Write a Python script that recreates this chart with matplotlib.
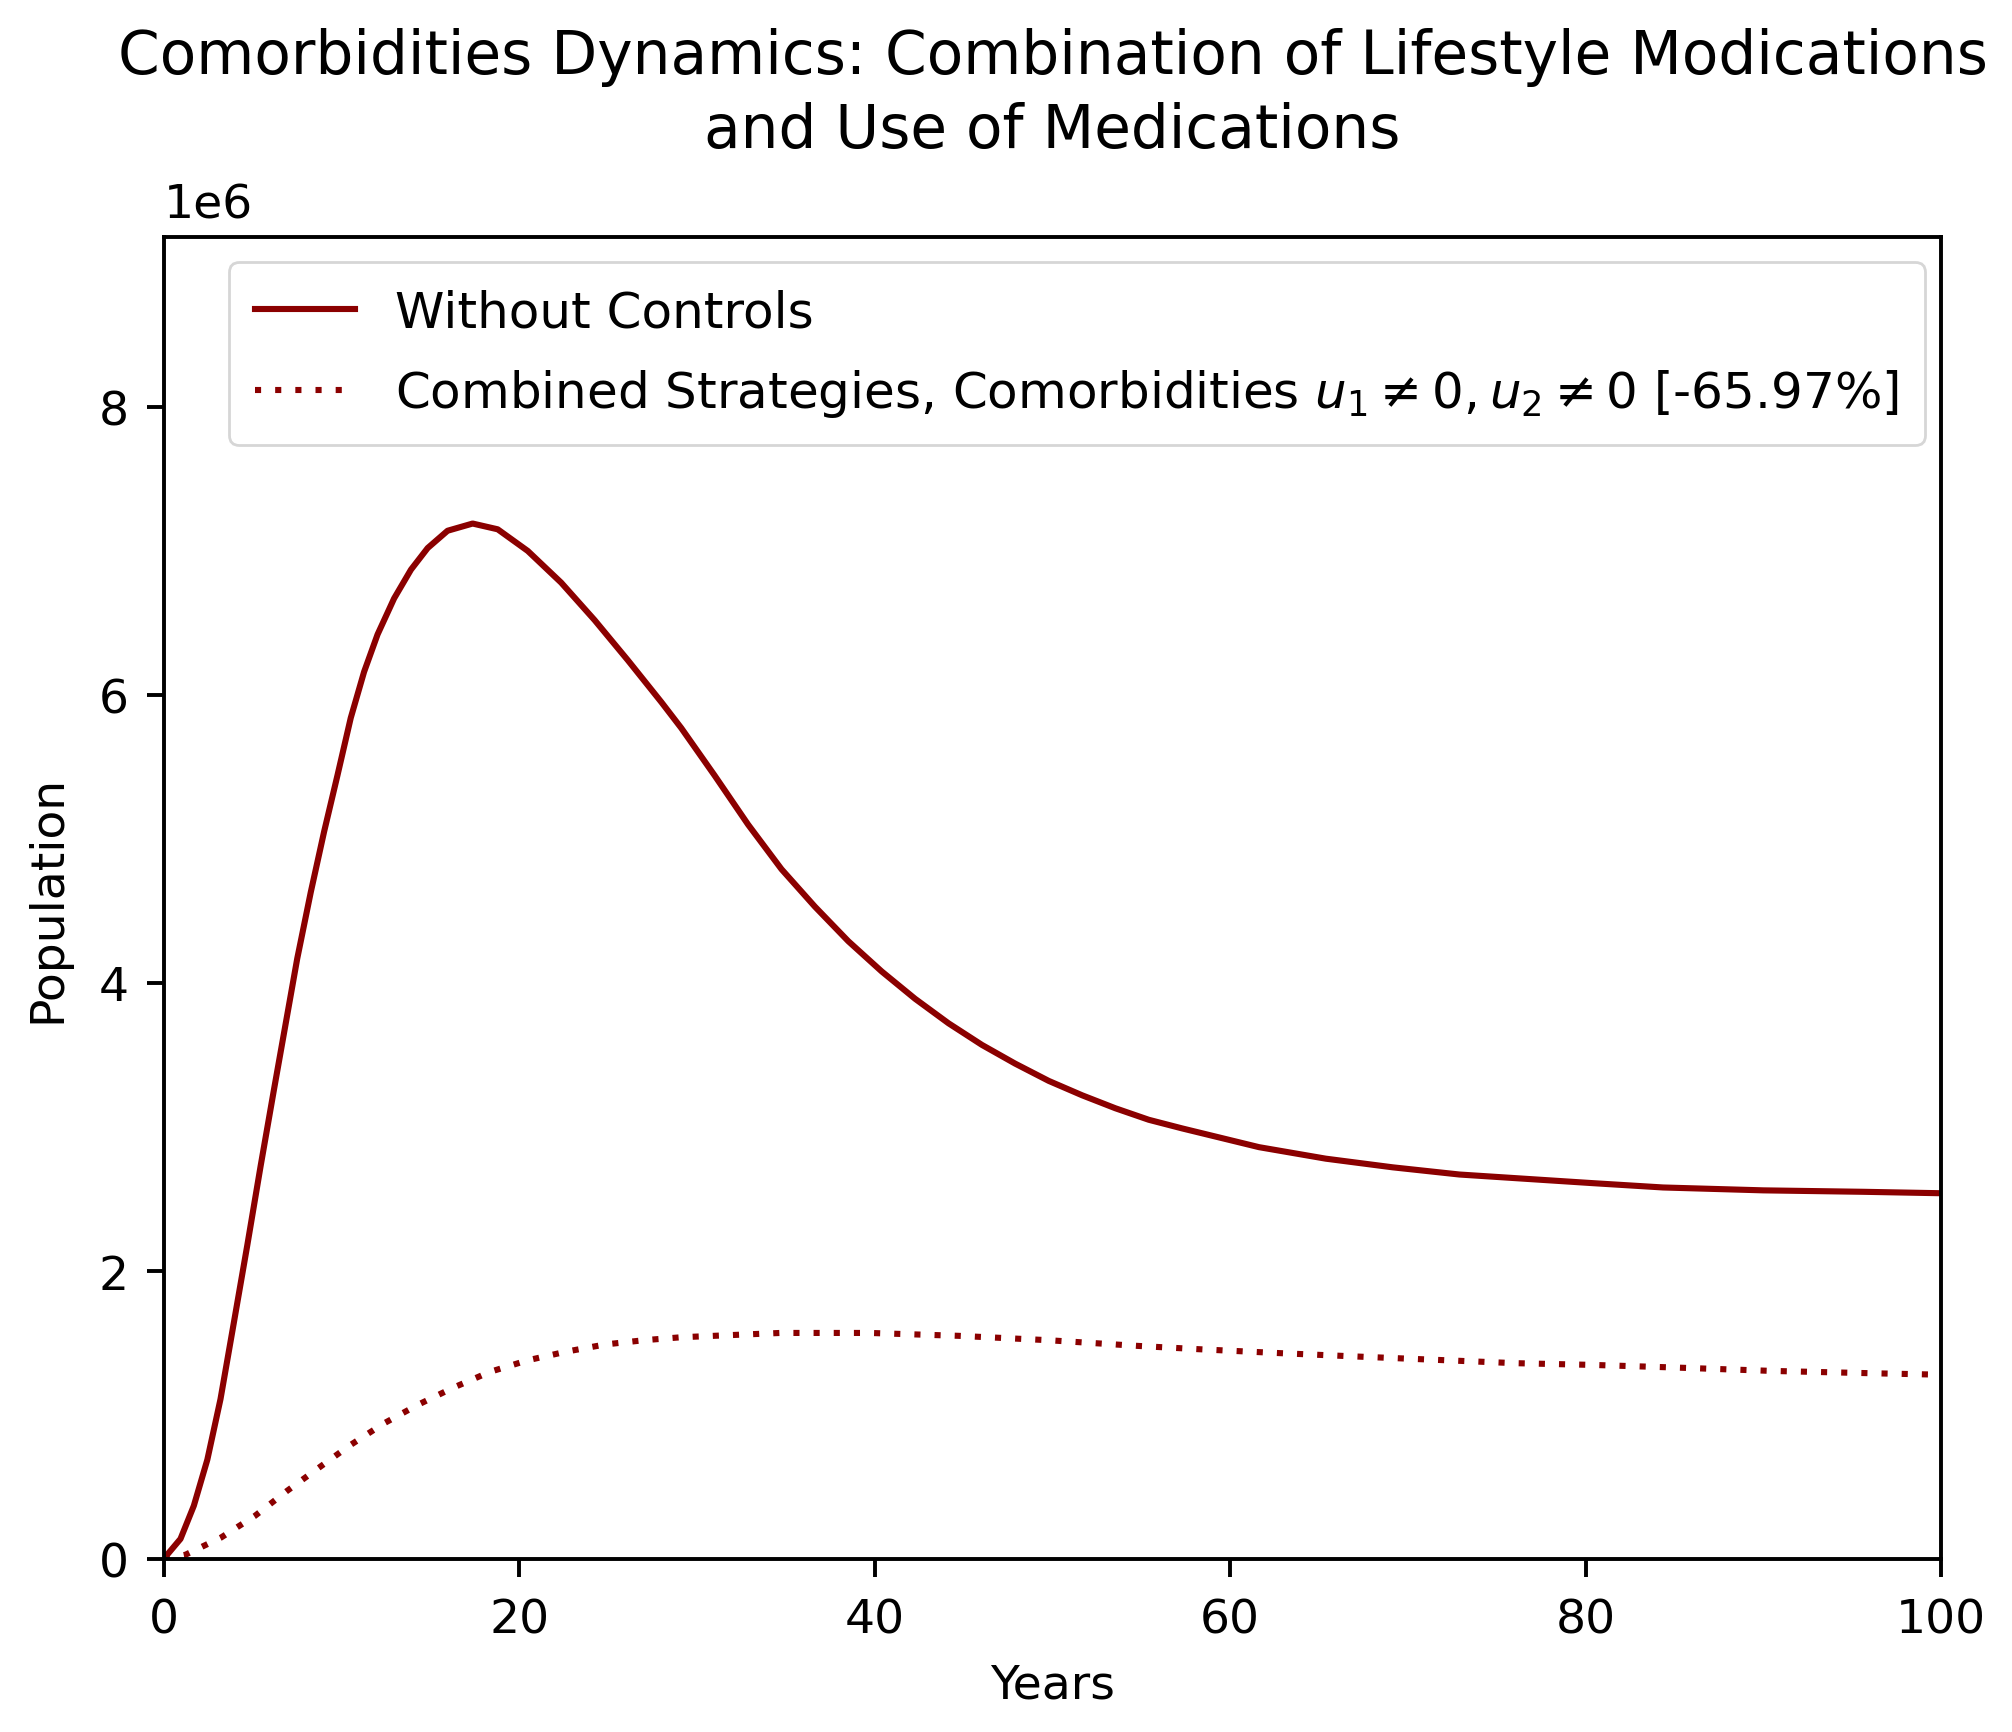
import matplotlib
matplotlib.use('Agg')
import matplotlib.pyplot as plt
import numpy as np

# values (population in millions)
years_without = [0, 0.18, 0.93, 1.68, 2.44, 3.18, 3.93, 4.69, 5.44, 6.19, 7.5, 8.26, 9.01,
                 9.76, 10.51, 11.26, 12.02, 12.95, 13.9, 14.84, 15.96, 17.37, 18.78, 20.47,
                 22.35, 24.23, 26.11, 27.99, 29.11, 30.99, 32.87, 34.75, 36.63, 38.51, 40.39,
                 42.27, 44.15, 46.03, 47.9, 49.79, 51.67, 53.54, 55.42, 57.3, 61.62, 65.38,
                 69.14, 72.9, 76.65, 80.41, 84.36, 90.0, 95.63, 100]
pop_without = [0, 0.03, 0.14, 0.37, 0.69, 1.11, 1.64, 2.18, 2.73, 3.26, 4.17, 4.63, 5.05,
               5.44, 5.84, 6.16, 6.42, 6.67, 6.87, 7.02, 7.14, 7.19, 7.15, 7.00,
               6.78, 6.52, 6.24, 5.95, 5.77, 5.44, 5.10, 4.79, 4.53, 4.29, 4.08,
               3.89, 3.72, 3.57, 3.44, 3.32, 3.22, 3.13, 3.05, 2.99, 2.86, 2.78,
               2.72, 2.67, 2.64, 2.61, 2.58, 2.56, 2.55, 2.54]

years_combined = [0, 1.21, 3.22, 5.12, 6.89, 8.67, 10.47, 12.35, 14.27, 16.28, 18.35, 20.47,
                  22.63, 24.83, 27.05, 29.11, 34.7, 39.7, 44.7, 49.7, 54.8, 58.24, 62.75,
                  67.17, 71.62, 76.05, 80.41, 85.0, 90.56, 96.15, 100]
pop_combined = [0, 0.03, 0.15, 0.30, 0.47, 0.63, 0.79, 0.94, 1.07, 1.19, 1.30, 1.38,
                1.44, 1.49, 1.52, 1.54, 1.57, 1.57, 1.55, 1.52, 1.48, 1.457, 1.43,
                1.406, 1.383, 1.36, 1.348, 1.33, 1.306, 1.29, 1.28]

label_without = "Without Controls"
label_combined = "Combined Strategies, Comorbidities $u_1 \\neq 0, u_2 \\neq 0$ [-65.97%]"

plt.rcParams['font.size'] = 17
plt.rcParams['axes.linewidth'] = 1.4
plt.rcParams['xtick.major.width'] = 1.4
plt.rcParams['ytick.major.width'] = 1.4
plt.rcParams['xtick.major.size'] = 6.5
plt.rcParams['ytick.major.size'] = 6.2
plt.rcParams['xtick.major.pad'] = 7.2
plt.rcParams['ytick.major.pad'] = 6.5

fig = plt.figure(figsize=(10.06, 8.665), dpi=200)
ax = fig.add_axes([0.0815, 0.0998, 0.8832, 0.7629])

ax.plot(years_without, np.array(pop_without) * 1e6, color='darkred', lw=2.2,
        label=label_without)
ax.plot(years_combined, np.array(pop_combined) * 1e6, color='darkred', lw=2.2,
        linestyle=(0, (1, 2.3)), label=label_combined)

ax.set_xlim(0, 100)
ax.set_ylim(0, 9.18e6)
ax.set_xlabel("Years", labelpad=7.5)
ax.set_ylabel("Population", labelpad=10)
ax.yaxis.OFFSETTEXTPAD = 7
ax.set_title("Comorbidities Dynamics: Combination of Lifestyle Modications\nand Use of Medications",
             fontsize=21.5, y=1.068, pad=0, linespacing=1.33)
ax.legend(loc='upper right', bbox_to_anchor=(0.991, 0.981), borderaxespad=0,
          fontsize=18, labelspacing=0.62, borderpad=0.52)

fig.savefig('out.png', dpi=200)
